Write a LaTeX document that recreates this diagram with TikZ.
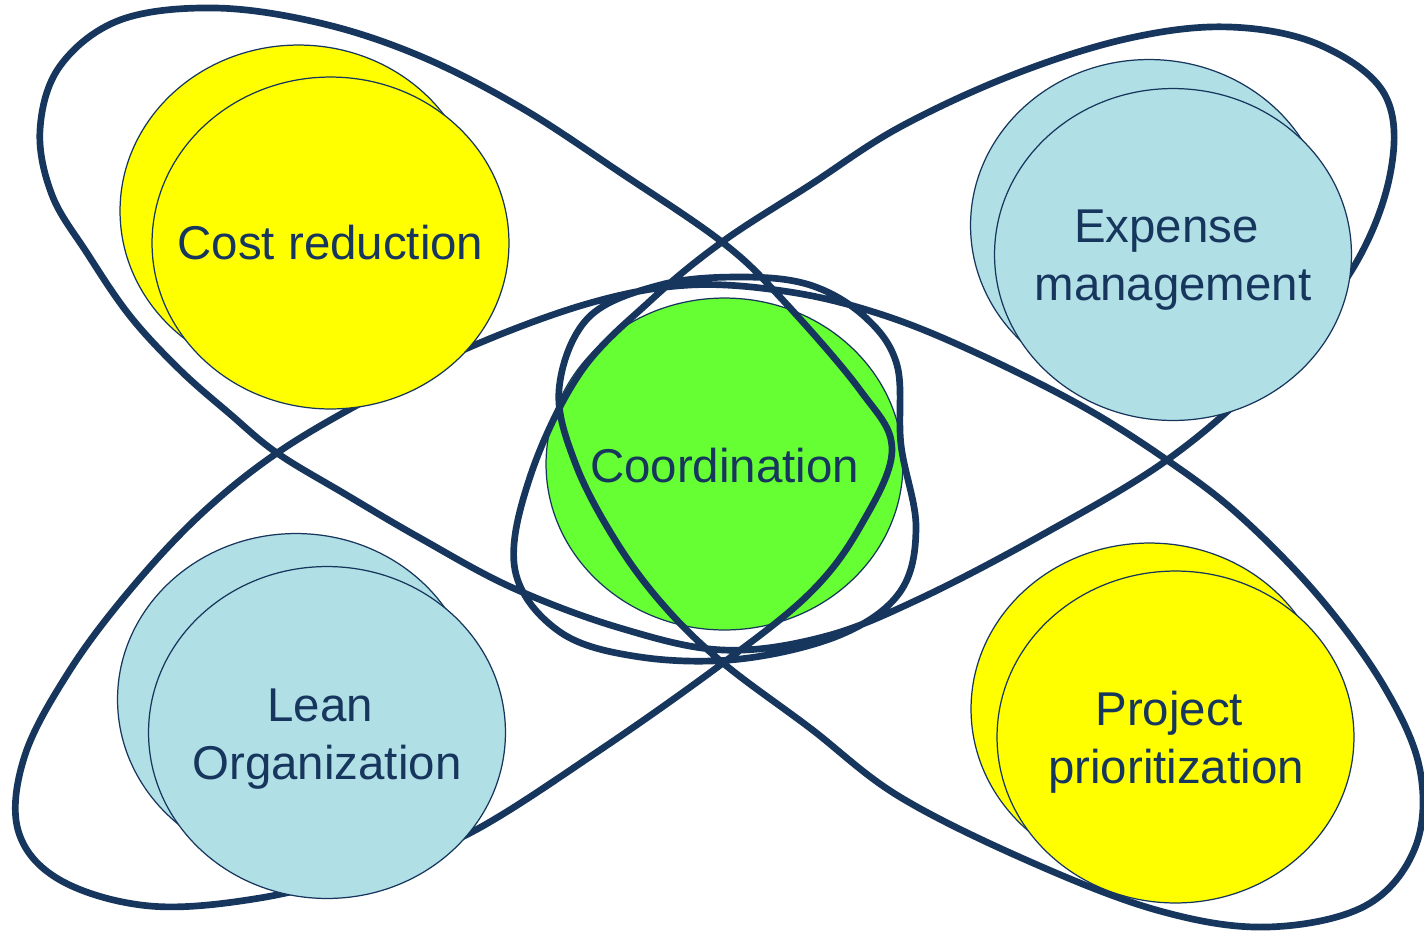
\documentclass[tikz,border=0pt]{standalone}
\usepackage{fontspec}
\setmainfont{Liberation Sans}
\usetikzlibrary{shapes.geometric}
\definecolor{navy}{RGB}{23,54,93}
\definecolor{cyel}{RGB}{255,255,0}
\definecolor{cblue}{RGB}{176,223,229}
\definecolor{cgreen}{RGB}{102,255,51}
\begin{document}
\begin{tikzpicture}[x=0.02cm,y=-0.02cm,
  orbit/.style={draw=navy, line width=3.8pt, line join=round},
  bub/.style={ellipse, draw=navy, line width=0.7pt, minimum width=7.14cm, minimum height=6.64cm, inner sep=0pt},
  lbl/.style={text=navy, font=\fontsize{27}{33}\selectfont, align=center, inner sep=0pt}]
\useasboundingbox (0,0) rectangle (1424,931);
\fill[white] (0,0) rectangle (1424,931);
% centre
\node[bub, fill=cgreen] (co) at (724.5,464) {};
% orbit curve
\draw[orbit] plot[smooth cycle, tension=0.6] coordinates {
 (722,242) (621,173) (520,107) (420,56) (320,23) (215,8) (120,20) (60,66) (40,130) (52,195)
 (87,253) (130,316) (180,370) (230,414) (277,453) (345,494) (420,538) (513,588)
 (620,628) (723,650) (823,637) (917,600)
 (1040,536) (1167,460) (1265,375) (1350,273) (1390,175) (1385,95) (1320,45) (1230,27) (1130,38)
 (1015,74) (900,127) (810,185) (722,242)
 (650,301) (580,373) (530,477) (515,570) (560,632) (640,657) (740,659) (840,635) (900,592)
 (916,527) (901,445) (897,365) (865,317) (810,285) (740,277) (660,285) (588,318) (559,390)
 (576,465) (617,543) (665,607) (723,663)
 (810,728) (900,797) (1033,863) (1160,911) (1267,927) (1365,906) (1415,848) (1420,770)
 (1385,688) (1320,598) (1240,516) (1167,460) (1080,405) (970,350) (880,314) (790,292) (690,285)
 (590,303) (470,347) (370,398) (277,453) (200,515) (130,590) (70,670) (25,755) (18,830) (60,880)
 (150,906) (260,898) (370,870) (470,833) (600,750) (723,663)
 (810,593) (860,527) (892,450) (860,390) (780,297)
};
% corner bubbles
\node[bub, fill=cyel] (crb) at (298.5,211) {};
\node[bub, fill=cyel] (crf) at (330.5,243) {};
\node[bub, fill=cblue] (emb) at (1149,225.5) {};
\node[bub, fill=cblue] (emf) at (1173,254.5) {};
\node[bub, fill=cblue] (lob) at (296,699.5) {};
\node[bub, fill=cblue] (lof) at (327,732.5) {};
\node[bub, fill=cyel] (ppb) at (1149.5,709) {};
\node[bub, fill=cyel] (ppf) at (1175.5,737) {};
% labels
\node[lbl] (tco) at (724.5,466) {Coordination};
\node[lbl] (tcr) at (330.5,243) {Cost reduction};
\node[lbl] (tem) at (1173,260) {Expense\hspace*{0.28em}\\management};
\node[lbl] (tlo) at (327,739) {Lean\hspace*{0.28em}\\Organization};
\node[lbl] (tpp) at (1176,742) {Project\hspace*{0.28em}\\prioritization};
\end{tikzpicture}
\end{document}
